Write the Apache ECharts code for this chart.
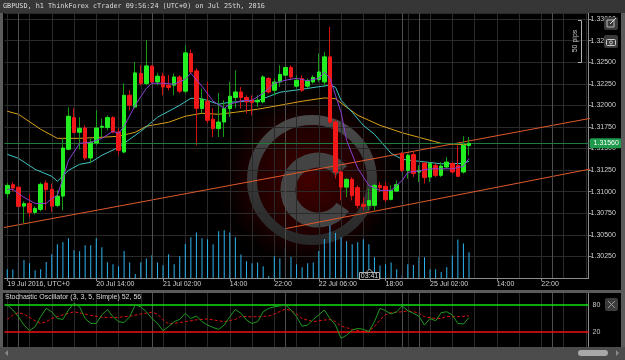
<!DOCTYPE html>
<html>
<head>
<meta charset="utf-8">
<script src="https://cdn.jsdelivr.net/npm/echarts@6/dist/echarts.min.js"></script>
<style>
  html, body { margin: 0; padding: 0; background: #000; }
  #chart { width: 625px; height: 360px; }
</style>
</head>
<body>
<div id="chart"></div>
<script>
// hourly bars, weekend skipped (22 Jul 20:00 -> 24 Jul 21:00)
const categories = []
function addHours(day, from, to) {
  for (let h = from; h <= to; h++) categories.push(day + ' Jul ' + String(h).padStart(2, '0') + ':00')
}
addHours(19, 22, 23); addHours(20, 0, 23); addHours(21, 0, 23); addHours(22, 0, 20)
addHours(24, 21, 23); addHours(25, 0, 23); addHours(26, 0, 6)

const xLabelIdx = [0, 16, 28, 40, 48, 56, 68, 76, 88, 96]
const xLabelText = ['19 Jul 2016, UTC+0', '20 Jul 14:00', '21 Jul 02:00', '14:00', '22:00',
  '22 Jul 06:00', '18:00', '25 Jul 02:00', '14:00', '22:00']
const daySepIdx = [2, 26, 50, 71, 74, 98]

const opens = [1.30977, 1.31081, 1.31053, 1.30833, 1.30864, 1.30760, 1.30795, 1.31100, 1.31027, 1.30841,
  1.30949, 1.31491, 1.31859, 1.31688, 1.31738, 1.31390, 1.31564, 1.31746, 1.31743, 1.31859,
  1.31691, 1.31459, 1.32117, 1.31981, 1.32369, 1.32253, 1.32454, 1.32271, 1.32338, 1.32233,
  1.32233, 1.32329, 1.32164, 1.32601, 1.32399, 1.31963, 1.32048, 1.31839, 1.31731, 1.31807,
  1.31963, 1.32091, 1.32155, 1.32091, 1.32059, 1.32040, 1.32040, 1.32311, 1.32175, 1.32271,
  1.32349, 1.32439, 1.32222, 1.32311, 1.32222, 1.32271, 1.32299, 1.32271, 1.32562, 1.31807,
  1.31228, 1.31053, 1.31143, 1.31047, 1.30853, 1.30841, 1.30841, 1.31073, 1.31062, 1.30911,
  1.31007, 1.31441, 1.31247, 1.31429, 1.31228, 1.31332, 1.31169, 1.31305, 1.31189, 1.31286,
  1.31325, 1.31305, 1.31228, 1.31534]
const closes = [1.31073, 1.31042, 1.30830, 1.30861, 1.30760, 1.30806, 1.31085, 1.31023, 1.30833, 1.30949,
  1.31506, 1.31874, 1.31685, 1.31734, 1.31390, 1.31572, 1.31738, 1.31758, 1.31859, 1.31691,
  1.31479, 1.32117, 1.32001, 1.32376, 1.32253, 1.32457, 1.32271, 1.32338, 1.32213, 1.32207,
  1.32329, 1.32164, 1.32608, 1.32387, 1.31966, 1.32067, 1.31827, 1.31731, 1.31807, 1.31963,
  1.32106, 1.32155, 1.32091, 1.32040, 1.32033, 1.32059, 1.32329, 1.32155, 1.32271, 1.32357,
  1.32439, 1.32329, 1.32291, 1.32175, 1.32283, 1.32323, 1.32387, 1.32562, 1.31807, 1.31228,
  1.31053, 1.31143, 1.30957, 1.30841, 1.30830, 1.30899, 1.31073, 1.31047, 1.30907, 1.31015,
  1.31081, 1.31247, 1.31421, 1.31209, 1.31247, 1.31163, 1.31325, 1.31189, 1.31297, 1.31343,
  1.31228, 1.31178, 1.31537, 1.31560]
const lows = [1.30922, 1.31004, 1.30806, 1.30636, 1.30705, 1.30737, 1.30772, 1.30783, 1.30764, 1.30821,
  1.30783, 1.31479, 1.31676, 1.31491, 1.31363, 1.31328, 1.31537, 1.31633, 1.31711, 1.31676,
  1.31421, 1.31444, 1.31943, 1.31966, 1.32233, 1.32233, 1.32256, 1.32233, 1.32117, 1.32175,
  1.32117, 1.32140, 1.32140, 1.32369, 1.31537, 1.31905, 1.31792, 1.31633, 1.31633, 1.31633,
  1.31865, 1.31966, 1.31963, 1.31905, 1.31885, 1.31981, 1.32021, 1.32137, 1.32117, 1.32213,
  1.32291, 1.32291, 1.32198, 1.32155, 1.32195, 1.32253, 1.32271, 1.32213, 1.31789, 1.31154,
  1.30899, 1.30937, 1.30899, 1.30803, 1.30783, 1.30783, 1.30783, 1.30995, 1.30880, 1.30899,
  1.30995, 1.31228, 1.31151, 1.31169, 1.31112, 1.31093, 1.31112, 1.31169, 1.31169, 1.31267,
  1.31209, 1.31169, 1.31209, 1.31421]
const highs = [1.31100, 1.31108, 1.31073, 1.30888, 1.30969, 1.30830, 1.31108, 1.31131, 1.31093, 1.31015,
  1.31618, 1.31978, 1.31966, 1.31862, 1.31769, 1.31618, 1.31943, 1.31847, 1.31885, 1.31874,
  1.31734, 1.32256, 1.32175, 1.32503, 1.32465, 1.32755, 1.32465, 1.32376, 1.32376, 1.32349,
  1.32369, 1.32349, 1.32697, 1.32647, 1.32430, 1.32195, 1.32271, 1.31966, 1.32144, 1.32059,
  1.32271, 1.32407, 1.32213, 1.32117, 1.32117, 1.32117, 1.32349, 1.32329, 1.32311, 1.32465,
  1.32531, 1.32465, 1.32349, 1.32349, 1.32311, 1.32349, 1.32601, 1.32620, 1.32910, 1.31827,
  1.31247, 1.31154, 1.31169, 1.31073, 1.30937, 1.31035, 1.31093, 1.31112, 1.31112, 1.31073,
  1.31131, 1.31459, 1.31441, 1.31459, 1.31305, 1.31343, 1.31343, 1.31325, 1.31343, 1.31402,
  1.31343, 1.31537, 1.31642, 1.31633]
const volumes = [348, 336, 616, 720, 588, 308, 348, 640, 948, 1348,
  1428, 1588, 1108, 1068, 1308, 1308, 1588, 1228, 628, 548,
  468, 1080, 616, 160, 628, 776, 908, 616, 508, 948,
  548, 868, 1360, 1628, 1816, 1588, 1548, 1348, 1868, 1908,
  1816, 1628, 936, 668, 588, 616, 468, 68, 868, 788,
  1200, 840, 548, 428, 588, 616, 1080, 1560, 2108, 1800,
  1628, 1468, 1348, 1428, 1548, 1348, 828, 496, 548, 616,
  348, 120, 548, 520, 828, 828, 348, 348, 240, 428,
  896, 1536, 1376, 1028]
const lastPrice = 1.31560

// moving averages: [bar index, price]
const maFast = [[0, 1.31027], [1, 1.31027], [3, 1.30934], [5, 1.30864], [7, 1.30864], [8, 1.30922], [9, 1.30957],
  [10, 1.31154], [11, 1.31363], [13, 1.31560], [15, 1.31572], [17, 1.31618], [19, 1.31700], [20, 1.31676],
  [21, 1.31758], [23, 1.32001], [25, 1.32198], [26, 1.32256], [28, 1.32256], [30, 1.32245], [32, 1.32303],
  [33, 1.32372], [35, 1.32222], [37, 1.32048], [39, 1.31966], [40, 1.32013], [42, 1.32053], [44, 1.32059],
  [46, 1.32140], [48, 1.32256], [50, 1.32291], [52, 1.32314], [54, 1.32285], [56, 1.32314], [57, 1.32384],
  [58, 1.32314], [59, 1.32117], [60, 1.31920], [61, 1.31595], [63, 1.31270], [65, 1.31073], [67, 1.31015],
  [69, 1.31015], [71, 1.31131], [72, 1.31224], [74, 1.31241], [76, 1.31265], [80, 1.31265], [82, 1.31294],
  [83, 1.31386]]
const maMid = [[0, 1.31433], [2, 1.31386], [5, 1.31259], [8, 1.31178], [9, 1.31120], [11, 1.31247], [13, 1.31317],
  [15, 1.31340], [17, 1.31421], [20, 1.31514], [24, 1.31700], [27, 1.31862], [31, 1.32001], [33, 1.32082],
  [35, 1.32077], [38, 1.32013], [40, 1.32036], [45, 1.32053], [49, 1.32152], [53, 1.32187], [56, 1.32216],
  [58, 1.32233], [59, 1.32210], [60, 1.32059], [62, 1.31920], [64, 1.31769], [66, 1.31665], [69, 1.31444],
  [71, 1.31375], [74, 1.31352], [78, 1.31323], [82, 1.31328], [83, 1.31352]]
const maSlow = [[0, 1.31932], [2, 1.31897], [6, 1.31723], [9, 1.31618], [13, 1.31618], [17, 1.31630], [20, 1.31642],
  [23, 1.31688], [25, 1.31758], [29, 1.31804], [32, 1.31874], [35, 1.31908], [38, 1.31897], [41, 1.31920],
  [45, 1.31955], [49, 1.32001], [53, 1.32048], [57, 1.32086], [59, 1.32077], [61, 1.31978], [63, 1.31885],
  [67, 1.31769], [71, 1.31682], [74, 1.31630], [78, 1.31560], [81, 1.31549], [83, 1.31543]]

// channel trend lines: [bar index, price]
const trendLower = [[-1, 1.30580], [105, 1.31852]]
const trendUpper = [[50, 1.30572], [105, 1.31265]]

// stochastic %K per bar, %D as [bar index, value]
const stochK = [80, 69, 54, 35.5, 23, 32, 54, 72.6, 65, 50, 48, 69, 83.7, 76, 50, 39, 39, 58, 70, 54,
  43, 41, 54, 80, 76, 65, 50, 39, 23, 32, 43, 48, 61.5, 50, 55.5, 43, 35.5, 30, 26, 35.5,
  54, 70, 61.5, 46.7, 39, 43, 65, 72.6, 76, 78, 80, 69, 54, 33, 35.5, 48, 58, 69, 50, 35.5,
  6, 13, 24.4, 28, 26, 20.7, 43, 72.6, 67.4, 60, 65, 78, 67.4, 61.5, 55, 35.5, 50, 45, 63, 65,
  58, 39, 37.8, 52]
const stochD = [[0, 47], [1, 58], [2, 63], [3, 60], [5, 45], [6, 39], [7, 43], [8, 50], [10, 58], [12, 65],
  [14, 60], [15, 57], [17, 53], [19, 52], [20, 53], [22, 55], [24, 60], [26, 64], [27, 60], [28, 47],
  [29, 38], [30, 39], [32, 43], [34, 47], [36, 49], [38, 45], [39, 43], [41, 48], [42, 55], [43, 54],
  [45, 54], [47, 56], [48, 60], [50, 71], [51, 68], [52, 60], [53, 50], [55, 43], [56, 45], [58, 48],
  [59, 43], [60, 33], [62, 26], [64, 21], [65, 22], [66, 32], [67, 47], [68, 58], [69, 63], [71, 65],
  [72, 67], [73, 65], [74, 62], [75, 54], [77, 50], [78, 50], [79, 55], [80, 54], [81, 54], [83, 56]]

const FONT = 'Liberation Sans'
const gridColor = '#2a2a2a'
const axisColor = '#8c8c8c'
const isLabel = i => xLabelIdx.indexOf(i) >= 0

function makeXAxis(gridIndex, main) {
  return {
    type: 'category',
    gridIndex: gridIndex,
    data: categories,
    boundaryGap: true,
    axisLine: { show: main, lineStyle: { color: axisColor } },
    axisTick: { show: main, alignWithLabel: true, length: 3, interval: isLabel, lineStyle: { color: axisColor } },
    axisLabel: {
      show: main,
      interval: isLabel,
      formatter: (v, i) => xLabelText[xLabelIdx.indexOf(i)],
      color: '#d0d0d0',
      fontSize: 7,
      fontFamily: FONT,
      align: 'left',
      margin: 3
    },
    splitLine: { show: true, alignWithLabel: true, interval: i => i % 4 === 0, lineStyle: { color: gridColor } }
  }
}

const daySepLine = {
  symbol: 'none',
  silent: true,
  label: { show: false },
  lineStyle: { color: '#4e4e4e', type: 'solid', width: 1 },
  data: daySepIdx.map(i => ({ xAxis: i }))
}

const chart = echarts.init(document.getElementById('chart'))

const option = {
  backgroundColor: '#000',
  animation: false,
  grid: [
    { left: 4.5, right: 36.4, top: 13, bottom: 82 },
    { left: 4.5, right: 36.4, top: 293, bottom: 13 }
  ],
  xAxis: [makeXAxis(0, true), makeXAxis(1, false)],
  yAxis: [
    {
      type: 'value',
      gridIndex: 0,
      position: 'right',
      min: 1.3,
      max: 1.3307,
      interval: 0.0025,
      axisLine: { show: true, lineStyle: { color: axisColor } },
      axisTick: { show: true, length: 3, lineStyle: { color: axisColor } },
      axisLabel: {
        formatter: v => v.toFixed(5),
        color: '#d0d0d0',
        fontSize: 7,
        fontFamily: FONT,
        margin: 2,
        showMinLabel: false,
        showMaxLabel: false
      },
      splitLine: { lineStyle: { color: gridColor } }
    },
    { type: 'value', gridIndex: 0, min: 0, max: 10600, show: false },
    {
      type: 'value',
      gridIndex: 1,
      position: 'right',
      min: -13.3,
      max: 106.7,
      axisLine: { show: true, lineStyle: { color: axisColor } },
      axisTick: { show: false },
      axisLabel: { show: false },
      splitLine: { show: false }
    }
  ],
  graphic: [
    // cTrader watermark
    {
      type: 'circle', z: -10, silent: true,
      shape: { cx: 308, cy: 180, r: 100 },
      style: {
        fill: {
          type: 'radial', x: 0.5, y: 0.5, r: 0.5,
          colorStops: [
            { offset: 0, color: 'rgba(130,0,0,0.5)' },
            { offset: 0.6, color: 'rgba(90,0,0,0.32)' },
            { offset: 1, color: 'rgba(0,0,0,0)' }
          ]
        }
      }
    },
    {
      type: 'circle', z: -9, silent: true,
      shape: { cx: 312, cy: 180, r: 60 },
      style: {
        fill: 'none', lineWidth: 10,
        stroke: {
          type: 'linear', x: 0, y: 0, x2: 0, y2: 1,
          colorStops: [{ offset: 0, color: '#4a4a4a' }, { offset: 1, color: '#262626' }]
        }
      }
    },
    {
      type: 'arc', z: -9, silent: true,
      shape: { cx: 318, cy: 190, r: 30, startAngle: 0.6, endAngle: 5.6 },
      style: { fill: 'none', stroke: '#434343', lineWidth: 15 }
    },
    // frame
    { type: 'rect', z: 100, silent: true, shape: { x: 0, y: 0, width: 625, height: 13 }, style: { fill: '#363636' } },
    {
      type: 'text', z: 101, silent: true, x: 3, y: 3,
      style: { text: 'GBPUSD, h1 ThinkForex cTrader 09:56:24 (UTC+0) on Jul 25th, 2016', fill: '#dcdcdc', font: '6.8px "DejaVu Sans Mono"' }
    },
    { type: 'rect', z: 100, silent: true, shape: { x: 0, y: 13, width: 3, height: 347 }, style: { fill: '#5a5a5a' } },
    { type: 'rect', z: 100, silent: true, shape: { x: 621, y: 13, width: 4, height: 347 }, style: { fill: '#5a5a5a' } },
    { type: 'rect', z: 100, silent: true, shape: { x: 0, y: 290, width: 625, height: 3 }, style: { fill: '#5a5a5a' } },
    { type: 'rect', z: 100, silent: true, shape: { x: 0, y: 347, width: 625, height: 13 }, style: { fill: '#4c4c4c' } },
    { type: 'polygon', z: 101, silent: true, shape: { points: [[8, 350], [8, 356], [5, 353]] }, style: { fill: '#888' } },
    { type: 'polygon', z: 101, silent: true, shape: { points: [[616, 350], [616, 356], [619, 353]] }, style: { fill: '#888' } },
    { type: 'rect', z: 101, silent: true, shape: { x: 578, y: 350, width: 30, height: 6, r: 3 }, style: { fill: '#a8a8a8' } },
    // close button of the oscillator pane
    { type: 'rect', z: 101, silent: true, shape: { x: 605, y: 298, width: 13, height: 13, r: 2 }, style: { fill: '#3c3c3c' } },
    { type: 'line', z: 102, silent: true, shape: { x1: 608, y1: 301, x2: 615, y2: 308 }, style: { stroke: '#9a9a9a', lineWidth: 1 } },
    { type: 'line', z: 102, silent: true, shape: { x1: 615, y1: 301, x2: 608, y2: 308 }, style: { stroke: '#9a9a9a', lineWidth: 1 } },
    // top right tool icons
    { type: 'rect', z: 101, silent: true, shape: { x: 604, y: 17, width: 14, height: 13, r: 2 }, style: { fill: '#3a3a3a' } },
    { type: 'rect', z: 102, silent: true, shape: { x: 607, y: 20, width: 7, height: 7 }, style: { fill: 'none', stroke: '#bbb', lineWidth: 1 } },
    { type: 'line', z: 102, silent: true, shape: { x1: 610, y1: 24, x2: 616, y2: 18 }, style: { stroke: '#ddd', lineWidth: 1 } },
    { type: 'rect', z: 101, silent: true, shape: { x: 604, y: 35, width: 14, height: 13, r: 2 }, style: { fill: '#3a3a3a' } },
    { type: 'rect', z: 102, silent: true, shape: { x: 606.5, y: 39.5, width: 9, height: 6, r: 1 }, style: { fill: 'none', stroke: '#ccc', lineWidth: 1 } },
    { type: 'circle', z: 102, silent: true, shape: { cx: 611, cy: 42.5, r: 1.5 }, style: { fill: 'none', stroke: '#ccc', lineWidth: 1 } },
    // 50 pips ruler
    {
      type: 'polyline', z: 50, silent: true,
      shape: { points: [[578, 20.5], [581.5, 20.5], [581.5, 62.5], [578, 62.5]] },
      style: { fill: 'none', stroke: '#b0b0b0', lineWidth: 1 }
    },
    {
      type: 'text', z: 50, silent: true, x: 575, y: 41, rotation: Math.PI / 2,
      style: { text: '50 pips', fill: '#c8c8c8', font: '7px "Liberation Sans"', align: 'center', verticalAlign: 'middle' }
    },
    // bar countdown tag
    { type: 'polygon', z: 60, silent: true, shape: { points: [[366, 272.5], [369.5, 269], [373, 272.5]] }, style: { fill: '#000', stroke: '#b0b0b0', lineWidth: 1 } },
    { type: 'rect', z: 60, silent: true, shape: { x: 359.5, y: 272.5, width: 20, height: 7 }, style: { fill: '#000', stroke: '#b0b0b0', lineWidth: 1 } },
    {
      type: 'text', z: 61, silent: true, x: 369.5, y: 276.3,
      style: { text: '03:41', fill: '#e0e0e0', font: '7px "Liberation Sans"', align: 'center', verticalAlign: 'middle' }
    },
    {
      type: 'text', z: 61, silent: true, x: 5, y: 297.5,
      style: { text: 'Stochastic Oscillator (3, 3, 5, Simple) 52, 56', fill: '#dcdcdc', font: '7px "Liberation Sans"', verticalAlign: 'middle' }
    }
  ],
  series: [
    {
      name: 'Volume',
      type: 'bar',
      xAxisIndex: 0,
      yAxisIndex: 1,
      z: 1,
      barWidth: 1,
      data: volumes,
      itemStyle: { color: '#2cb4ee' },
      markLine: daySepLine
    },
    {
      name: 'MA slow',
      type: 'line',
      xAxisIndex: 0,
      yAxisIndex: 0,
      z: 3,
      symbol: 'none',
      data: maSlow,
      lineStyle: { color: '#d9a016', width: 1 },
      // current price line with its tag on the price axis
      markLine: {
        symbol: 'none',
        silent: true,
        precision: 5,
        data: [{ yAxis: lastPrice }],
        lineStyle: { color: '#1f7a3e', type: 'solid', width: 1 },
        label: {
          position: 'end',
          distance: 1,
          formatter: lastPrice.toFixed(5),
          color: '#fff',
          backgroundColor: '#1e9a4c',
          borderRadius: 2,
          padding: [2, 3, 1, 4],
          fontSize: 7,
          fontFamily: FONT
        }
      }
    },
    {
      name: 'MA mid',
      type: 'line',
      xAxisIndex: 0,
      yAxisIndex: 0,
      z: 3,
      symbol: 'none',
      data: maMid,
      lineStyle: { color: '#3ec4c4', width: 1 }
    },
    {
      name: 'Trend lower',
      type: 'line',
      xAxisIndex: 0,
      yAxisIndex: 0,
      z: 3,
      symbol: 'none',
      data: trendLower,
      lineStyle: { color: '#e0592a', width: 1 }
    },
    {
      name: 'Trend upper',
      type: 'line',
      xAxisIndex: 0,
      yAxisIndex: 0,
      z: 3,
      symbol: 'none',
      data: trendUpper,
      lineStyle: { color: '#e0592a', width: 1 }
    },
    {
      // wicks, drawn in the darker shades
      name: 'GBPUSD wicks',
      type: 'candlestick',
      xAxisIndex: 0,
      yAxisIndex: 0,
      z: 4,
      barWidth: 1,
      data: opens.map((o, i) => [o, closes[i], lows[i], highs[i]]),
      itemStyle: {
        color: '#159a15',
        color0: '#d01212',
        borderColor: '#159a15',
        borderColor0: '#d01212',
        borderWidth: 1
      }
    },
    {
      // bodies only
      name: 'GBPUSD',
      type: 'candlestick',
      xAxisIndex: 0,
      yAxisIndex: 0,
      z: 5,
      barWidth: 4,
      data: opens.map((o, i) => [o, closes[i], Math.min(o, closes[i]), Math.max(o, closes[i])]),
      itemStyle: {
        color: '#22ee22',
        color0: '#f01818',
        borderColor: '#22ee22',
        borderColor0: '#f01818',
        borderWidth: 1
      }
    },
    {
      name: 'MA fast',
      type: 'line',
      xAxisIndex: 0,
      yAxisIndex: 0,
      z: 6,
      symbol: 'none',
      data: maFast,
      lineStyle: { color: '#8a3fd0', width: 1 }
    },
    {
      name: '%D',
      type: 'line',
      xAxisIndex: 1,
      yAxisIndex: 2,
      z: 4,
      symbol: 'none',
      data: stochD,
      lineStyle: { color: '#e01010', width: 1, type: [3, 2] },
      markLine: daySepLine
    },
    {
      name: '%K',
      type: 'line',
      xAxisIndex: 1,
      yAxisIndex: 2,
      z: 5,
      symbol: 'none',
      data: stochK,
      lineStyle: { color: '#1f9a1f', width: 1 },
      markLine: {
        symbol: 'none',
        silent: true,
        data: [
          { yAxis: 80, lineStyle: { color: '#10e010' } },
          { yAxis: 20, lineStyle: { color: '#f01010' } }
        ],
        lineStyle: { type: 'solid', width: 1.5 },
        label: { position: 'end', distance: 4, formatter: p => String(p.value), color: '#c8c8c8', fontSize: 7, fontFamily: FONT }
      }
    }
  ]
}

chart.setOption(option)
</script>
</body>
</html>
